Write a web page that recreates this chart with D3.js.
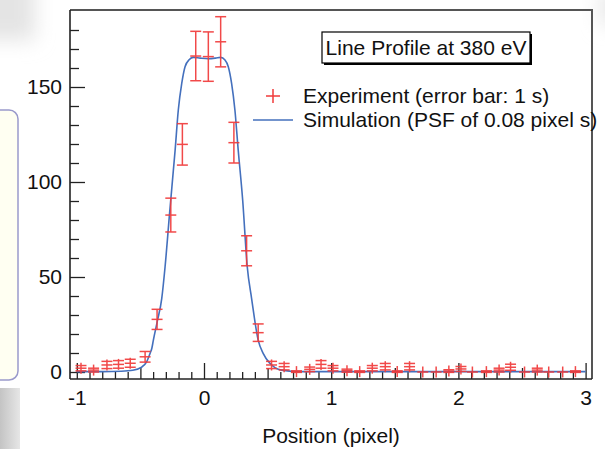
<!DOCTYPE html>
<html>
<head>
<meta charset="utf-8">
<script src="https://cdn.jsdelivr.net/npm/d3@7"></script>
<style>
  body { margin: 0; background: #fff; }
  svg { display: block; }
  text { font-family: "Liberation Sans", Arial, Helvetica, sans-serif; }
</style>
</head>
<body>
<svg id="svg" width="605" height="449"></svg>
<script>
// experiment: position (pixel), counts, 1 sigma error
const expX = [-0.967, -0.868, -0.763, -0.672, -0.580, -0.463, -0.369, -0.261, -0.170, -0.065,
  0.034, 0.131, 0.235, 0.335, 0.426, 0.531, 0.630, 0.727, 0.831, 0.920,
  1.014, 1.124, 1.224, 1.323, 1.425, 1.519, 1.616, 1.720, 1.825, 1.925,
  2.020, 2.110, 2.220, 2.320, 2.410, 2.520, 2.620, 2.710, 2.820, 2.920];
const expY = [2, 1, 3.7, 4, 4.6, 8, 27.7, 82.6, 119.8, 166.3,
  166, 173.8, 120.7, 63.8, 20.7, 3.7, 2.8, 0.2, 1.4, 4,
  2, 0.7, 0.2, 2, 2.8, 0.2, 2.8, 0, 0, 0.5,
  1.6, 0, 0.2, 1, 2.5, 0, 1, 0, 0, 0.2];
const expErr = [1.4, 1, 1.9, 2, 2.1, 2.8, 5.3, 8.9, 10.9, 13,
  13, 13.2, 10.7, 7.9, 4.6, 1.9, 1.7, 0.4, 1.2, 2,
  1.4, 0.8, 0.4, 1.4, 1.7, 0.4, 1.7, 0, 0, 0.7,
  1.3, 0, 0.4, 1, 1.6, 0, 1, 0, 0, 0.4];

// simulation (PSF 0.08 pixel)
const simX = [-1.0, -0.8, -0.65, -0.56, -0.49, -0.45, -0.424, -0.41, -0.398, -0.366,
  -0.332, -0.306, -0.27, -0.227, -0.202, -0.175, -0.149, -0.115, -0.084, -0.03,
  0.034, 0.09, 0.131, 0.165, 0.191, 0.217, 0.243, 0.269, 0.304, 0.340,
  0.374, 0.426, 0.465, 0.518, 0.609, 0.766, 1.0, 2.0, 3.0];
const simY = [0.2, 0.2, 0.4, 0.9, 2.6, 5.5, 9.8, 12.5, 16.8, 27,
  38.8, 55.4, 84, 116.8, 137.9, 151.9, 160.7, 164.5, 165.6, 165.2,
  164.9, 165.2, 165.6, 164.2, 160.7, 151.9, 137.9, 116.8, 90.5, 55.4,
  38.8, 16.8, 9.8, 4.6, 1, 0.2, 0.2, 0.2, 0.2];

const xTicks = [-1, 0, 1, 2, 3];
const yTicks = [0, 50, 100, 150];
const titleText = "Line Profile at 380 eV";
const legendLabels = ["Experiment (error bar: 1 s)", "Simulation (PSF of 0.08 pixel s)"];
const xLabel = "Position (pixel)";

const red = "#f03a3a";
const blue = "#4470bd";

const svg = d3.select("#svg");

// background decoration on the left (slide leftovers)
const defs = svg.append("defs");
defs.append("filter").attr("id", "blur")
  .attr("x", "-100%").attr("y", "-100%").attr("width", "300%").attr("height", "300%")
  .append("feGaussianBlur").attr("stdDeviation", 10);
const bgL = defs.append("linearGradient").attr("id", "bgL");
bgL.append("stop").attr("offset", "0%").attr("stop-color", "#c4c4c4");
bgL.append("stop").attr("offset", "100%").attr("stop-color", "#e6e6e6");

svg.append("rect").attr("x", -25).attr("y", -25).attr("width", 60).attr("height", 65)
  .attr("fill", "#e4e4e4").attr("filter", "url(#blur)");
svg.append("rect").attr("x", 0).attr("y", 388).attr("width", 20).attr("height", 61)
  .attr("fill", "url(#bgL)");
svg.append("rect").attr("x", 600).attr("y", -10).attr("width", 20).attr("height", 35)
  .attr("fill", "#e6e6e6").attr("filter", "url(#blur)");
svg.append("rect").attr("x", -12).attr("y", 110).attr("width", 30).attr("height", 270)
  .attr("rx", 9).attr("fill", "#fffff2").attr("stroke", "#9a9acb").attr("stroke-width", 1.5);

const x = d3.scaleLinear().domain([-1, 3]).range([76.8, 585.6]);
const y = d3.scaleLinear().domain([0, 150]).range([372, 87]);

const plotLeft = 70, plotRight = 592, plotTop = 10, plotBottom = 379;

// frame
svg.append("path")
  .attr("d", `M${plotLeft},${plotTop}H${plotRight}V${plotBottom}`)
  .attr("fill", "none").attr("stroke", "#555").attr("stroke-width", 2);

// x axis with inward ticks
const xMinor = d3.range(-10, 31).map(i => i / 10);
const xAxis = svg.append("g").attr("transform", `translate(0,${plotBottom})`)
  .call(d3.axisBottom(x).tickValues(xMinor).tickFormat("").tickSize(-7).tickSizeOuter(0));
xAxis.select(".domain").remove();
xAxis.selectAll(".tick line")
  .attr("y2", d => Math.abs(d - Math.round(d)) < 1e-6 ? -16 : (Math.abs(d * 2 - Math.round(d * 2)) < 1e-6 ? -11 : -7))
  .attr("stroke", "#222").attr("stroke-width", 1.3);
svg.append("line").attr("x1", plotLeft).attr("x2", plotRight).attr("y1", plotBottom).attr("y2", plotBottom)
  .attr("stroke", "#222").attr("stroke-width", 1.6);

const xLab = svg.append("g").attr("transform", `translate(0,${plotBottom})`)
  .call(d3.axisBottom(x).tickValues(xTicks).tickFormat(d => String(d)).tickSize(0).tickPadding(11));
xLab.select(".domain").remove();
xLab.selectAll("text").attr("font-size", 21).attr("fill", "#111")
  .attr("font-family", "'Liberation Sans', Arial, sans-serif");

// y axis with inward ticks
const yMinor = d3.range(0, 19).map(i => i * 10);
const yAxis = svg.append("g").attr("transform", `translate(${plotLeft},0)`)
  .call(d3.axisLeft(y).tickValues(yMinor).tickFormat("").tickSize(-9).tickSizeOuter(0));
yAxis.select(".domain").remove();
yAxis.selectAll(".tick line")
  .attr("x2", d => d % 50 === 0 ? 15 : 9)
  .attr("stroke", "#222").attr("stroke-width", 1.3);
svg.append("line").attr("x1", plotLeft).attr("x2", plotLeft).attr("y1", plotTop).attr("y2", plotBottom)
  .attr("stroke", "#222").attr("stroke-width", 1.6);

const yLab = svg.append("g").attr("transform", `translate(${plotLeft},0)`)
  .call(d3.axisLeft(y).tickValues(yTicks).tickSize(0).tickPadding(8));
yLab.select(".domain").remove();
yLab.selectAll("text").attr("font-size", 21).attr("fill", "#111")
  .attr("font-family", "'Liberation Sans', Arial, sans-serif");

svg.append("text")
  .attr("x", 331).attr("y", 443)
  .attr("text-anchor", "middle").attr("font-size", 21).attr("fill", "#111")
  .text(xLabel);

// simulation curve
const line = d3.line().x(d => x(d[0])).y(d => y(d[1])).curve(d3.curveMonotoneX);
svg.append("path")
  .datum(simX.map((v, i) => [v, simY[i]]))
  .attr("d", line)
  .attr("fill", "none").attr("stroke", blue).attr("stroke-width", 1.6);

// experiment points with error bars
const pts = expX.map((v, i) => ({ x: v, y: expY[i], e: expErr[i] }));
const cap = 5.5;
const pg = svg.append("g").attr("stroke", red).attr("stroke-width", 1.5).attr("opacity", 0.92);
pts.forEach(p => {
  const cx = x(p.x), cy = y(p.y);
  const y0 = y(p.y - p.e), y1 = y(p.y + p.e);
  const g = pg.append("g");
  g.append("line").attr("x1", cx).attr("x2", cx).attr("y1", Math.max(y0, cy + 5.5)).attr("y2", Math.min(y1, cy - 5.5));
  g.append("line").attr("x1", cx - cap).attr("x2", cx + cap).attr("y1", cy).attr("y2", cy);
  if (p.e > 0) {
    g.append("line").attr("x1", cx - cap).attr("x2", cx + cap).attr("y1", y0).attr("y2", y0);
    g.append("line").attr("x1", cx - cap).attr("x2", cx + cap).attr("y1", y1).attr("y2", y1);
  }
});

// title box
svg.append("rect").attr("x", 324).attr("y", 34).attr("width", 208).attr("height", 31).attr("fill", "#000");
svg.append("rect").attr("x", 322).attr("y", 32).attr("width", 208).attr("height", 31)
  .attr("fill", "#fff").attr("stroke", "#000").attr("stroke-width", 1.2);
svg.append("text").attr("x", 426).attr("y", 55).attr("text-anchor", "middle")
  .attr("font-size", 21).attr("fill", "#111").text(titleText);

// legend
const lg = svg.append("g");
lg.append("line").attr("x1", 266).attr("x2", 280).attr("y1", 96).attr("y2", 96).attr("stroke", red).attr("stroke-width", 1.5);
lg.append("line").attr("x1", 273).attr("x2", 273).attr("y1", 89).attr("y2", 103).attr("stroke", red).attr("stroke-width", 1.5);
lg.append("line").attr("x1", 253).attr("x2", 293).attr("y1", 120).attr("y2", 120).attr("stroke", blue).attr("stroke-width", 1.6);
lg.selectAll("text.leg").data(legendLabels).join("text").attr("class", "leg")
  .attr("x", 303).attr("y", (d, i) => 103 + i * 24)
  .attr("font-size", 21).attr("fill", "#111").text(d => d);
</script>
</body>
</html>
